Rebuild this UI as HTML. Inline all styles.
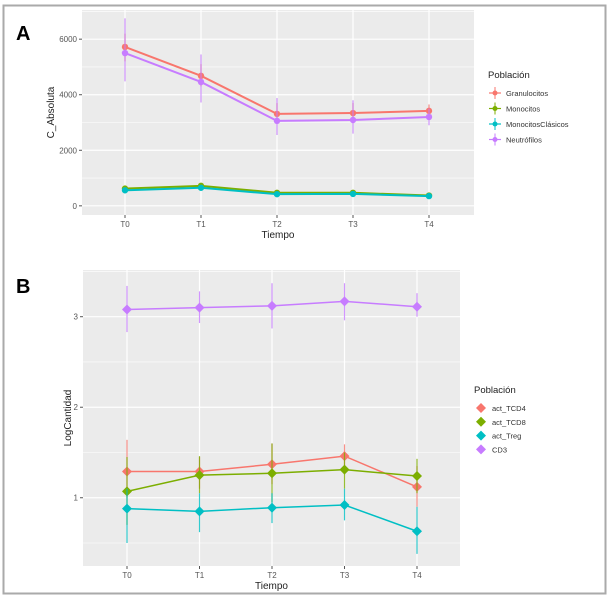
<!DOCTYPE html>
<html><head><meta charset="utf-8"><style>
body{margin:0;background:#fff;width:610px;height:600px;overflow:hidden}
svg{display:block;font-family:"Liberation Sans",sans-serif}
</style></head><body>
<svg id="s" width="610" height="600" xmlns="http://www.w3.org/2000/svg">
<rect x="3.5" y="5.5" width="602" height="588" fill="#fff" stroke="#aaa" stroke-width="2"/>
<text x="16" y="40" font-size="20" font-weight="bold">A</text>
<text x="16" y="293" font-size="20" font-weight="bold">B</text>
<g id="pa"></g>
<g id="pb"></g>
</svg>
<script>
const categories=["T0","T1","T2","T3","T4"];
const aNames=["Granulocitos","Monocitos","MonocitosClásicos","Neutrófilos"];
const aGran=[5720,4680,3310,3340,3420];
const aMono=[620,720,470,470,370];
const aMonoC=[560,650,420,430,350];
const aNeut=[5500,4460,3060,3090,3200];
const aNeutLo=[4480,3720,2550,2600,2900];
const aNeutHi=[6750,5450,3880,3800,3500];
const aGranLo=[5200,4300,3000,3050,3200];
const aGranHi=[6200,5100,3700,3700,3650];
const aTicks=[0,2000,4000,6000];
const bNames=["act_TCD4","act_TCD8","act_Treg","CD3"];
const bTCD4=[1.29,1.29,1.37,1.46,1.12];
const bTCD4Lo=[1.0,1.1,1.15,1.33,0.9];
const bTCD4Hi=[1.64,1.45,1.6,1.59,1.35];
const bTCD8=[1.07,1.25,1.27,1.31,1.24];
const bTCD8Lo=[0.7,1.05,0.95,1.1,1.05];
const bTCD8Hi=[1.45,1.46,1.6,1.5,1.43];
const bTreg=[0.88,0.85,0.89,0.92,0.63];
const bTregLo=[0.5,0.62,0.72,0.75,0.38];
const bTregHi=[1.1,1.05,1.05,1.1,0.9];
const bCD3=[3.08,3.10,3.12,3.17,3.11];
const bCD3Lo=[2.83,2.93,2.87,2.96,3.0];
const bCD3Hi=[3.34,3.28,3.37,3.37,3.26];
const bTicks=[1,2,3];
const cols=["#F8766D","#7CAE00","#00BFC4","#C77CFF"];
const NS="http://www.w3.org/2000/svg";
function mk(p,t,a){const e=document.createElementNS(NS,t);for(const k in a)e.setAttribute(k,a[k]);p.appendChild(e);return e;}
function panel(g,cfg){
 const {L,R,T,B,x0,dx,ymin,ymax,ticks,minorStep}=cfg;
 const X=i=>x0+i*dx, Y=v=>B-(v-ymin)/(ymax-ymin)*(B-T);
 const bg=mk(g,'rect',{x:L,y:T,width:R-L,height:B-T,fill:'#EBEBEB'});
 
 
 for(let v=ticks[0]-minorStep;v<=ymax;v+=minorStep*2){if(v>=ymin)mk(g,'line',{x1:L,x2:R,y1:Y(v),y2:Y(v),stroke:'#fff','stroke-width':0.6});}
 ticks.forEach(v=>{mk(g,'line',{x1:L,x2:R,y1:Y(v),y2:Y(v),stroke:'#fff','stroke-width':1.2});
  mk(g,'line',{x1:L-3,x2:L,y1:Y(v),y2:Y(v),stroke:'#555'});
  const t=mk(g,'text',{x:L-5,y:Y(v)+3,'font-size':8,fill:'#555','text-anchor':'end'});t.textContent=v;
  
  });
 categories.forEach((c,i)=>{mk(g,'line',{x1:X(i),x2:X(i),y1:T,y2:B,stroke:'#fff','stroke-width':1.2});
  mk(g,'line',{x1:X(i),x2:X(i),y1:B,y2:B+3,stroke:'#555'});
  const t=mk(g,'text',{x:X(i),y:B+12,'font-size':8,fill:'#555','text-anchor':'middle'});t.textContent=c;
  
  });
 const xt=mk(g,'text',{x:(L+R)/2,y:B+23,'font-size':10,fill:'#222','text-anchor':'middle'});xt.textContent='Tiempo';
 
 
 const yt=mk(g,'text',{x:0,y:0,'font-size':10,fill:'#222','text-anchor':'middle',transform:`translate(${cfg.ytx},${(T+B)/2}) rotate(-90)`});yt.textContent=cfg.ytitle;
 
 
 cfg.series.forEach((s,k)=>{
  const sg=mk(g,'g',{});
  
  
  if(s.lo)s.v.forEach((v,i)=>mk(sg,'line',{x1:X(i),x2:X(i),y1:Y(s.lo[i]),y2:Y(s.hi[i]),stroke:cols[k],'stroke-width':1.2,opacity:0.8}));
  mk(sg,'polyline',{points:s.v.map((v,i)=>X(i)+','+Y(v)).join(' '),fill:'none',stroke:cols[k],'stroke-width':cfg.lw});
  s.v.forEach((v,i)=>{let m;
   if(cfg.diamond){const r=5;m=mk(sg,'polygon',{points:`${X(i)},${Y(v)-r} ${X(i)+r},${Y(v)} ${X(i)},${Y(v)+r} ${X(i)-r},${Y(v)}`,fill:cols[k]});}
   else m=mk(sg,'circle',{cx:X(i),cy:Y(v),r:3.2,fill:cols[k]});
   
   });
 });
 const lg=mk(g,'g',{});
 
 
 const lt=mk(lg,'text',{x:cfg.lx-7,y:cfg.ly,'font-size':9.5,fill:'#222'});lt.textContent='Población';
 cfg.names.forEach((n,k)=>{const y=cfg.ly+15+k*cfg.lsp;
  const e=mk(lg,'g',{});
  
  
  if(cfg.diamond){mk(e,'polygon',{points:`${cfg.lx},${y-5} ${cfg.lx+5},${y} ${cfg.lx},${y+5} ${cfg.lx-5},${y}`,fill:cols[k]});}
  else{mk(e,'line',{x1:cfg.lx-6,x2:cfg.lx+6,y1:y,y2:y,stroke:cols[k],'stroke-width':1.2});mk(e,'line',{x1:cfg.lx,x2:cfg.lx,y1:y-6,y2:y+6,stroke:cols[k],'stroke-width':1});mk(e,'circle',{cx:cfg.lx,cy:y,r:2.5,fill:cols[k]});}
  const t=mk(e,'text',{x:cfg.lx+11,y:y+3,'font-size':7.5,fill:'#333'});t.textContent=n;});
}
panel(document.getElementById('pa'),{L:82,R:474,T:10,B:215,x0:125,dx:76,ymin:-330,ymax:7050,ticks:aTicks,minorStep:1000,ytitle:'C_Absoluta',ytx:54,lw:2,
 names:aNames,series:[{v:aGran,lo:aGranLo,hi:aGranHi},{v:aMono},{v:aMonoC},{v:aNeut,lo:aNeutLo,hi:aNeutHi}],lx:495,ly:78,lsp:15.5,diamond:false});
panel(document.getElementById('pb'),{L:83,R:460,T:270,B:566,x0:127,dx:72.5,ymin:0.246,ymax:3.516,ticks:bTicks,minorStep:0.5,ytitle:'LogCantidad',ytx:71,lw:1.5,
 names:bNames,series:[{v:bTCD4,lo:bTCD4Lo,hi:bTCD4Hi},{v:bTCD8,lo:bTCD8Lo,hi:bTCD8Hi},{v:bTreg,lo:bTregLo,hi:bTregHi},{v:bCD3,lo:bCD3Lo,hi:bCD3Hi}],lx:481,ly:393,lsp:13.8,diamond:true});
</script>
</body></html>
